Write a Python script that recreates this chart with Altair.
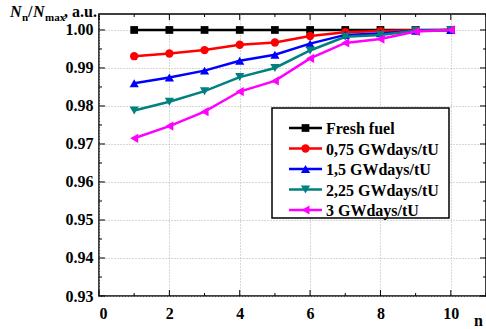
import altair as alt
import pandas as pd

# Relative neutron flux per fuel layer n for several burn-up levels
n_layer = [1, 2, 3, 4, 5, 6, 7, 8, 9, 10]
series_names = ["Fresh fuel", "0,75 GWdays/tU", "1,5 GWdays/tU", "2,25 GWdays/tU", "3 GWdays/tU"]
fresh = [1.0000, 1.0000, 1.0000, 1.0000, 1.0000, 1.0000, 1.0000, 1.0000, 1.0000, 1.0000]
bu_075 = [0.9931, 0.9938, 0.9947, 0.9961, 0.9967, 0.9984, 0.9994, 0.9997, 0.9999, 1.0000]
bu_150 = [0.9860, 0.9875, 0.9893, 0.9919, 0.9935, 0.9964, 0.9987, 0.9991, 0.9998, 1.0000]
bu_225 = [0.9788, 0.9811, 0.9839, 0.9876, 0.9900, 0.9946, 0.9982, 0.9987, 0.9998, 1.0000]
bu_300 = [0.9715, 0.9747, 0.9785, 0.9838, 0.9866, 0.9925, 0.9966, 0.9976, 0.9996, 1.0000]

colors = ["#000000", "#ff0000", "#0000ff", "#008080", "#ff00ff"]
shapes = ["square", "circle", "triangle-up", "triangle-down", "triangle-left"]
sizes = [60, 70, 85, 85, 85]

x_major = [0, 2, 4, 6, 8, 10]
x_minor = [1, 3, 5, 7, 9, 11]
y_major = [0.93, 0.94, 0.95, 0.96, 0.97, 0.98, 0.99, 1.00]
y_minor = [0.935, 0.945, 0.955, 0.965, 0.975, 0.985, 0.995]

W, H = 387, 282
FONT = "Liberation Serif"

x_scale = alt.Scale(domain=[0, 11], nice=False, zero=False)
y_scale = alt.Scale(domain=[0.93, 1.0042], nice=False, zero=False)

x_axis = alt.Axis(values=x_major, format="d", grid=True, gridDash=[1, 2], gridColor="#b0b0b0",
                  ticks=False, domain=False, labelFont=FONT, labelFontWeight="bold",
                  labelFontSize=16, labelColor="black", labelPadding=9, title=None)
y_axis = alt.Axis(values=y_major, format=".2f", grid=True, gridDash=[1, 2], gridColor="#b0b0b0",
                  ticks=False, domain=False, labelFont=FONT, labelFontWeight="bold",
                  labelFontSize=16, labelColor="black", labelPadding=6, title=None)


def X(field):
    return alt.X(field, scale=x_scale, axis=x_axis)


def Y(field):
    return alt.Y(field, scale=y_scale, axis=y_axis)


layers = []
all_values = [fresh, bu_075, bu_150, bu_225, bu_300]
for i, (name, vals) in enumerate(zip(series_names, all_values)):
    df = pd.DataFrame({"n": n_layer, "v": vals, "series": name})
    base = alt.Chart(df).encode(x=X("n:Q"), y=Y("v:Q"))
    layers.append(base.mark_line(color=colors[i], strokeWidth=2.5))
    layers.append(base.mark_point(shape=shapes[i], filled=True, opacity=1,
                                  color=colors[i], size=sizes[i]))


# Inward ticks on all four sides of the frame
def xticks(vals, length):
    d = pd.DataFrame({"t": vals})
    bottom = alt.Chart(d).mark_rule(color="black", strokeWidth=1).encode(
        x=X("t:Q"), y=alt.value(H), y2=alt.value(H - length))
    top = alt.Chart(d).mark_rule(color="black", strokeWidth=1).encode(
        x=X("t:Q"), y=alt.value(0), y2=alt.value(length))
    return [bottom, top]


def yticks(vals, length):
    d = pd.DataFrame({"t": vals})
    left = alt.Chart(d).mark_rule(color="black", strokeWidth=1).encode(
        y=Y("t:Q"), x=alt.value(0), x2=alt.value(length))
    right = alt.Chart(d).mark_rule(color="black", strokeWidth=1).encode(
        y=Y("t:Q"), x=alt.value(W - length), x2=alt.value(W))
    return [left, right]


layers += xticks(x_major, 6) + xticks(x_minor, 3) + yticks(y_major, 6) + yticks(y_minor, 3)

one = alt.Data(values=[{}])

# Legend box with line + marker samples
lx0, lx1, ly0, ly1 = 173, 350, 94, 204
layers.append(alt.Chart(one).mark_rect(fill="white", stroke="black", strokeWidth=1.5).encode(
    x=alt.value(lx0), x2=alt.value(lx1), y=alt.value(ly0), y2=alt.value(ly1)))
for i, name in enumerate(series_names):
    py = 114 + 20.5 * i
    layers.append(alt.Chart(one).mark_rule(color=colors[i], strokeWidth=2.5).encode(
        x=alt.value(190), x2=alt.value(223), y=alt.value(py)))
    layers.append(alt.Chart(one).mark_point(shape=shapes[i], filled=True, opacity=1,
                                            color=colors[i], size=sizes[i]).encode(
        x=alt.value(206.5), y=alt.value(py)))
    layers.append(alt.Chart(one).mark_text(text=name, align="left", baseline="middle",
                                           font=FONT, fontWeight="bold", fontSize=16,
                                           color="black").encode(
        x=alt.value(227), y=alt.value(py + 1)))


# Axis titles: N_n / N_max, a.u.  and  n
def txt(s, x, y, size, style="normal"):
    return alt.Chart(one).mark_text(text=s, align="left", baseline="alphabetic", font=FONT,
                                    fontWeight="bold", fontStyle=style, fontSize=size,
                                    color="black").encode(x=alt.value(x), y=alt.value(y))


layers += [
    txt("N", -89, 3, 16, "italic"),
    txt("n", -77, 7, 11),
    txt("/", -71, 3, 16),
    txt("N", -66, 3, 16, "italic"),
    txt("max", -54, 7, 11),
    txt(", a.u.", -35, 3, 16),
    txt("n", 375, 312, 16),
]

chart = alt.layer(*layers).properties(
    width=W, height=H,
    autosize=alt.AutoSizeParams(type="none"),
    padding={"left": 99, "top": 14, "right": 0, "bottom": 33},
).configure_view(stroke="black", strokeWidth=1.5)

chart.save("out.html", embed_options={"renderer": "svg", "actions": False})
